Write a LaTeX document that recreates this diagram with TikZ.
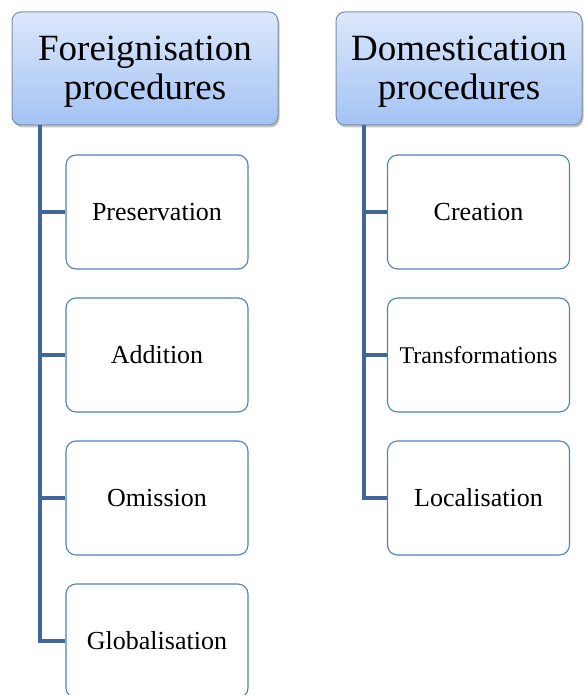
\documentclass[tikz,border=0pt]{standalone}
\usepackage{fontspec}
\setmainfont{Liberation Serif}
\usetikzlibrary{shadows}
\definecolor{hdtop}{HTML}{DCE8FB}
\definecolor{hdbot}{HTML}{A4C3F4}
\definecolor{hdborder}{HTML}{7D8FA8}
\definecolor{chborder}{HTML}{4F81BD}
\definecolor{conn}{HTML}{41679A}
\begin{document}
\begin{tikzpicture}[x=1pt,y=-1pt,
  header/.style={draw=hdborder, line width=1pt, rounded corners=9pt, top color=hdtop, bottom color=hdbot,
     drop shadow={shadow xshift=1.5pt, shadow yshift=-2.5pt, fill=black!45, opacity=0.5},
     inner sep=0pt},
  htext/.style={align=center, inner sep=0pt, font=\fontsize{37}{39}\selectfont},
  child/.style={draw=chborder, line width=1.1pt, rounded corners=10pt, fill=white,
     minimum width=182pt, minimum height=114pt, inner sep=0pt, font=\fontsize{26}{30}\selectfont},
  link/.style={draw=conn, line width=4pt}
]
\useasboundingbox (0,0) rectangle (583,695);
\node[header, minimum width=266pt, minimum height=113pt] (h1) at (145,68.5) {};
\node[htext] (t1) at (145,72) {Foreignisation\\procedures};
\node[header, minimum width=246pt, minimum height=113pt] (h2) at (459,68.5) {};
\node[htext] (t2) at (459,72) {Domestication\\procedures};
\node[child] (a1) at (157,212) {Preservation};
\node[child] (a2) at (157,355) {Addition};
\node[child] (a3) at (157,498) {Omission};
\node[child] (a4) at (157,641) {Globalisation};
\node[child] (b1) at (478.5,212) {Creation};
\node[child, font=\fontsize{24}{28}\selectfont] (b2) at (478.5,355) {Transformations};
\node[child] (b3) at (478.5,498) {Localisation};
\coordinate (la) at (40,0);
\coordinate (lb) at (364,0);
\draw[link] (h1.south -| la) -- (la |- a4.west) -- (a4.west);
\foreach \n in {a1,a2,a3} \draw[link] (la |- \n.west) -- (\n.west);
\draw[link] (h2.south -| lb) -- (lb |- b3.west) -- (b3.west);
\foreach \n in {b1,b2} \draw[link] (lb |- \n.west) -- (\n.west);
\end{tikzpicture}
\end{document}
